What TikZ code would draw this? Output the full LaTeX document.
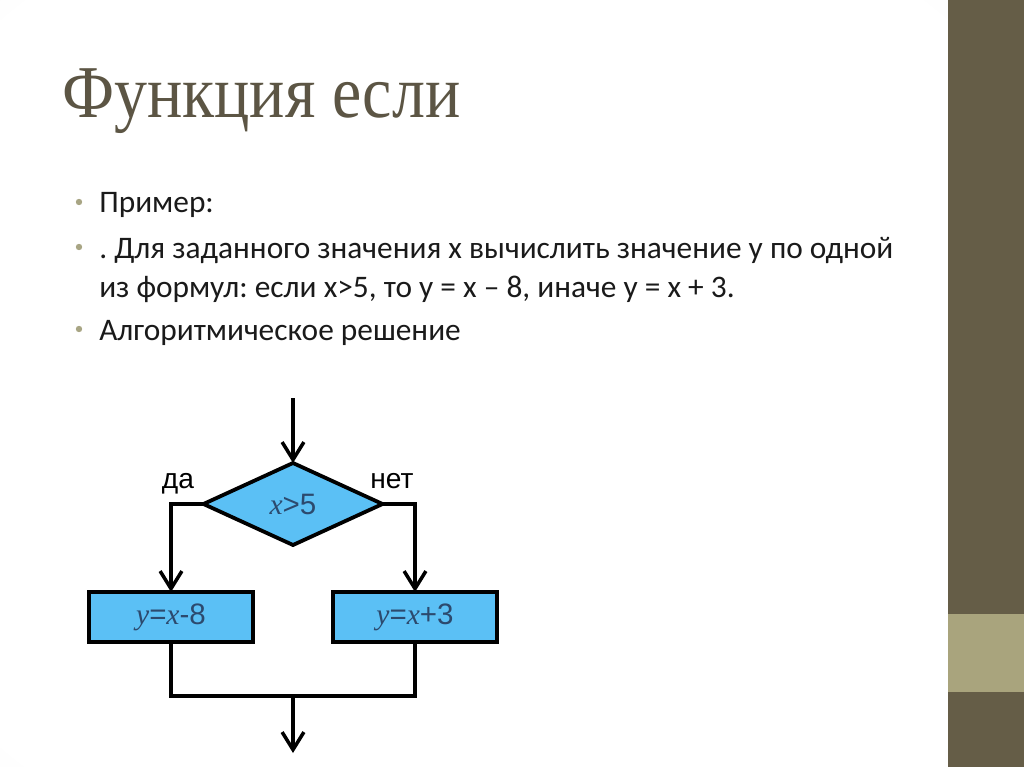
\documentclass[tikz,border=0pt]{standalone}
\usepackage{fontspec}
\setmainfont{Carlito}
\newfontfamily\titlefont[FakeStretch=0.885]{Liberation Serif}
\newfontfamily\chartfont{Liberation Sans}
\newfontfamily\varfont{Liberation Serif}
\usetikzlibrary{positioning, arrows.meta, shapes.geometric}

\definecolor{stripedark}{HTML}{655D47}
\definecolor{stripelight}{HTML}{A9A47D}
\definecolor{titleink}{HTML}{5C5544}
\definecolor{bodyink}{HTML}{1A1A1A}
\definecolor{bulletgray}{HTML}{A8A584}
\definecolor{chartblue}{HTML}{5BC0F5}
\definecolor{chartink}{HTML}{2C4A6E}

\pgfdeclareradialshading{vignette}{\pgfpoint{0bp}{0bp}}{color(0bp)=(white); color(34bp)=(white); color(50bp)=(black!7); color(72bp)=(black!11)}

\newcommand{\vr}[1]{{\varfont\itshape #1}}

\begin{document}
\frenchspacing
\begin{tikzpicture}[
      x=0.025cm, y=-0.025cm,
      txt/.style={anchor=base west, inner sep=0pt, text=bodyink,
                  font=\fontsize{22.3}{26}\selectfont},
      blk/.style={draw, line width=2.9pt, fill=chartblue, inner sep=0pt, outer sep=0pt,
                  minimum width=4.1cm, minimum height=1.25cm, text=chartink,
                  font=\chartfont\fontsize{21}{24}\selectfont},
      decision/.style={diamond, draw, line width=2.7pt, fill=chartblue, inner sep=0pt,
                  outer sep=0pt, minimum width=4.475cm, minimum height=2.05cm,
                  text=chartink, font=\chartfont\fontsize{21}{24}\selectfont},
      lbl/.style={font=\chartfont\fontsize{20}{22}\selectfont, inner sep=0pt},
      link/.style={line width=2.5pt},
      flow/.style={link, -{Straight Barb[length=12.5pt, width=15.5pt]}}
    ]
    \useasboundingbox (0,0) rectangle (1024,767);

    % Folie
    \shade[shading=vignette] (0,0) rectangle (948,767);
    \fill[stripedark] (948,0) rectangle (1024,767);
    \fill[stripelight] (948,614) rectangle (1024,692);
    \fill[white] (50,378) rectangle (945,767);

    % Titel und Text
    \node[anchor=base west, inner sep=0pt, text=titleink,
          font=\titlefont\fontsize{53}{60}\selectfont] (title) at (62,118) {Функция если};
    \foreach \y in {213,258,340}
      \fill[bulletgray] (79,\y-11) circle (3.2);
    \node[txt] (ex) at (99,213) {Пример:};
    \node[txt] (task) at (99,258) {. Для заданного значения х вычислить значение у по одной};
    \node[txt] (task2) at (99,297) {из формул: если х>5, то у = х – 8, иначе у = х + 3.};
    \node[txt] (alg) at (99,340) {Алгоритмическое решение};

    % Blockschema
    \coordinate (in) at (293,398);
    \node[decision] (cond) at (293,504) {\vr{x}>5};
    \node[blk] (yes) at (171,617) {\vr{y}=\vr{x}-8};
    \node[blk] (no) at (415,617) {\vr{y}=\vr{x}+3};
    \coordinate (join) at (293,696);
    \coordinate (out) at (293,753);
    \node[lbl] (da) at (178,484) {да};
    \node[lbl] (net) at (392,481) {нет};

    \draw[flow] (in) -- (cond.north);
    \draw[flow] (cond.west) -| (yes.north);
    \draw[flow] (cond.east) -| (no.north);
    \draw[link] (yes.south) |- (join) -| (no.south);
    \draw[flow] (join) -- (out);
  \end{tikzpicture}
\end{document}
